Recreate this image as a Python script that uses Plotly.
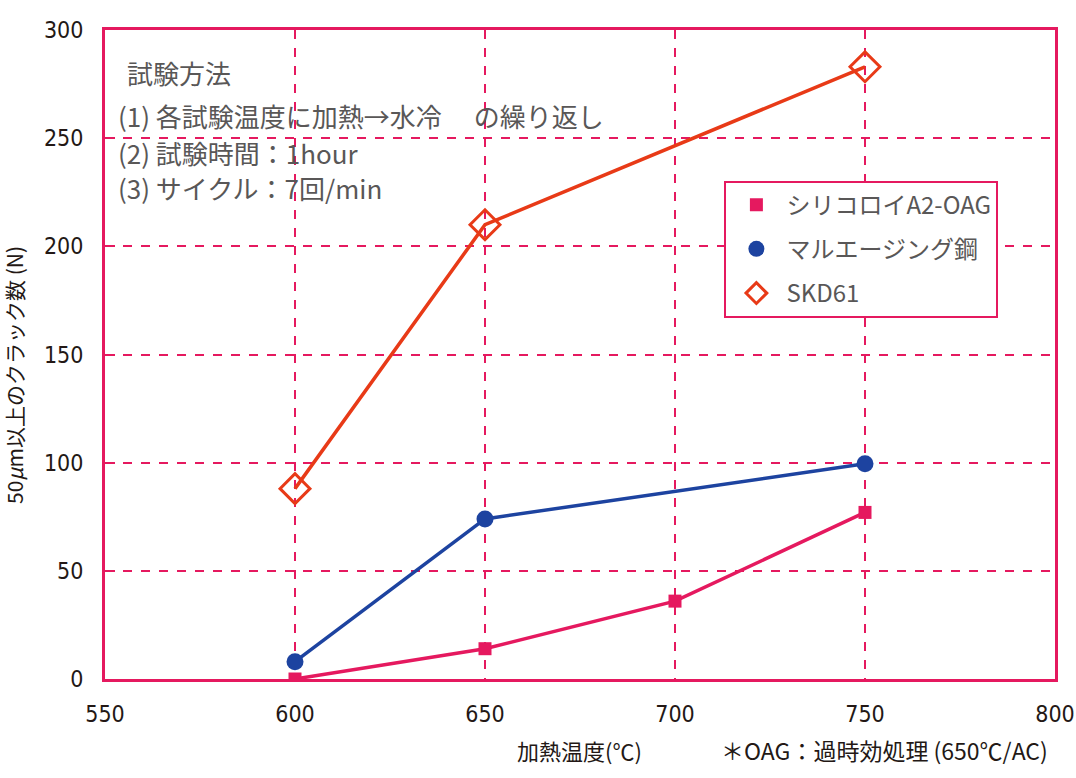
import plotly.graph_objects as go

# temperatures (℃)
temps_sil = [600, 650, 700, 750]
temps_mar = [600, 650, 750]
temps_skd = [600, 650, 750]

# crack counts (N)
cracks_sil = [0, 14, 36, 77]
cracks_mar = [8, 74, 99.5]
cracks_skd = [88, 210, 283]

names = ['シリコロイA2-OAG', 'マルエージング鋼', 'SKD61']

pink = '#e5195f'
blue = '#1d43a0'
red = '#e83a17'
jp = 'Noto Sans CJK JP'
num_font = dict(family='DejaVu Sans Condensed', size=23, color='#231815')

series = [
    (temps_sil, cracks_sil, pink, dict(symbol='square', size=13, color=pink)),
    (temps_mar, cracks_mar, blue, dict(symbol='circle', size=17, color=blue)),
    (temps_skd, cracks_skd, red, dict(symbol='diamond-open', size=23, color=red, line=dict(width=3))),
]

fig = go.Figure()

# lines first (no legend), then markers with legend entries
for x, y, c, m in series:
    fig.add_trace(go.Scatter(x=x, y=y, mode='lines', line=dict(color=c, width=3.5),
                             showlegend=False, hoverinfo='skip'))
for (x, y, c, m), nm in zip(series, names):
    fig.add_trace(go.Scatter(x=x, y=y, mode='markers', name=nm, marker=m,
                             legendgroup=nm))

fig.update_layout(
    width=1076, height=778,
    margin=dict(l=105, r=21, t=30, b=99),
    paper_bgcolor='white', plot_bgcolor='white',
    font=dict(family=jp, color='#231815'),
    xaxis=dict(
        range=[550, 800], tickvals=[550, 600, 650, 700, 750, 800],
        showgrid=True, gridcolor=pink, griddash='dash', gridwidth=2,
        showline=True, linecolor=pink, linewidth=3, mirror=True,
        zeroline=False, ticks='', ticklabelstandoff=12,
        ticklabeloverflow='allow',
        tickfont=num_font, automargin=False
    ),
    yaxis=dict(
        range=[0, 300], tickvals=[0, 50, 100, 150, 200, 250, 300],
        showgrid=True, gridcolor=pink, griddash='dash', gridwidth=2,
        showline=True, linecolor=pink, linewidth=3, mirror=True,
        zeroline=False, ticks='inside', ticklen=10, tickcolor=pink, tickwidth=2,
        ticklabelstandoff=14, automargin=False,
        tickfont=num_font
    ),
    legend=dict(
        x=0.652, y=0.768, xanchor='left', yanchor='top',
        bgcolor='white', bordercolor=pink, borderwidth=2,
        font=dict(family=jp, size=24, color='#595757'),
        itemwidth=50, tracegroupgap=10
    ),
)

# y axis title
fig.add_annotation(
    text='50<i>μ</i>m以上のクラック数 (N)', xref='paper', yref='paper',
    x=-0.095, y=0.468, textangle=-90, showarrow=False,
    xanchor='center', yanchor='middle',
    font=dict(family=jp, size=21, color='#231815')
)

# method notes inside the plot
notes = ['試験方法',
         '(1) 各試験温度に加熱→水冷　 の繰り返し',
         '(2) 試験時間：1hour',
         '(3) サイクル：7回/min']
note_x = [0.021, 0.012, 0.012, 0.012]
note_y = [0.934, 0.868, 0.812, 0.757]
for txt, xx, yy in zip(notes, note_x, note_y):
    fig.add_annotation(
        text=txt, xref='paper', yref='paper', x=xx, y=yy,
        xanchor='left', yanchor='middle', showarrow=False,
        font=dict(family=jp, size=26, color='#595757')
    )

fig.add_annotation(
    text='加熱温度(℃)', xref='paper', yref='paper', x=0.4316, y=-0.109,
    xanchor='left', yanchor='middle', showarrow=False,
    font=dict(family=jp, size=22, color='#231815')
)
fig.add_annotation(
    text='＊OAG：過時効処理 (650℃/AC)', xref='paper', yref='paper', x=0.9947, y=-0.109,
    xanchor='right', yanchor='middle', showarrow=False,
    font=dict(family=jp, size=23, color='#231815')
)

# drop the page's default 8px body margin so the figure fills the window
fig.write_html('out.html', config={'displayModeBar': False},
               post_script="document.body.style.margin='0';")
